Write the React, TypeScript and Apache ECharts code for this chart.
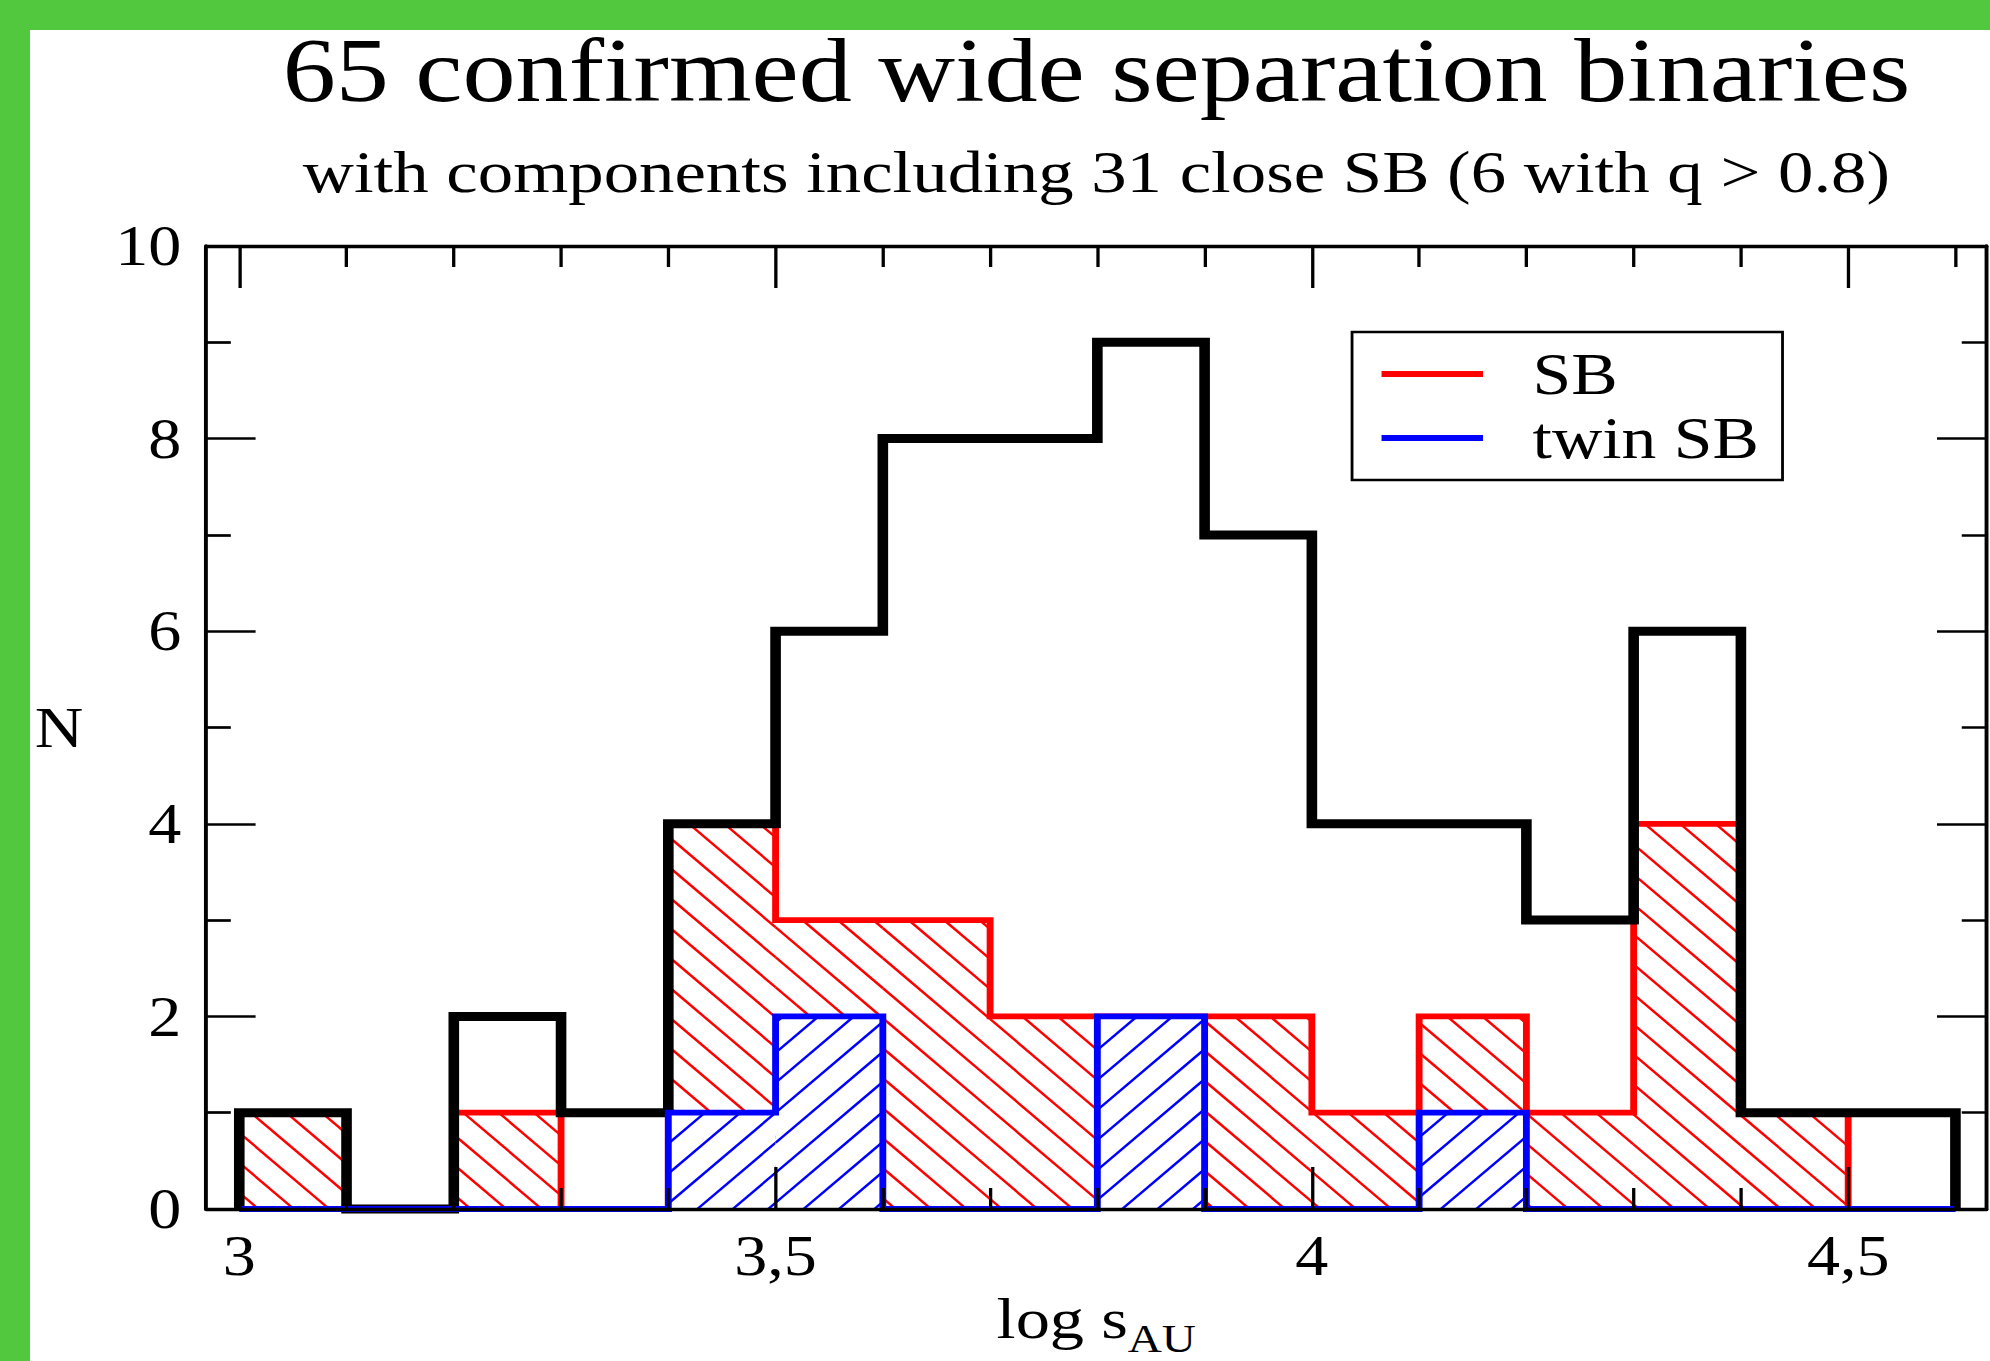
import React, { useEffect, useRef } from 'react';
import * as echarts from 'echarts';

// ---------------- data ----------------
const binEdges = [3.0, 3.1, 3.2, 3.3, 3.4, 3.5, 3.6, 3.7, 3.8, 3.9, 4.0, 4.1, 4.2, 4.3, 4.4, 4.5, 4.6];
const allCounts = [1, 0, 2, 1, 4, 6, 8, 8, 9, 7, 4, 4, 3, 6, 1, 1];
const sbCounts = [1, 0, 1, 0, 4, 3, 3, 2, 2, 2, 1, 2, 1, 4, 1, 0];
const twinCounts = [0, 0, 0, 0, 1, 2, 0, 0, 2, 0, 0, 1, 0, 0, 0, 0];

const xMajorTicks = [3, 3.5, 4, 4.5];
const xTickLabels = ['3', '3,5', '4', '4,5'];
const xMinorTicks = [3.1, 3.2, 3.3, 3.4, 3.6, 3.7, 3.8, 3.9, 4.1, 4.2, 4.3, 4.4, 4.6];

const titleText = '65 confirmed wide separation binaries';
const subtitleText = 'with components including 31 close SB (6 with q > 0.8)';
const legendNames = ['SB', 'twin SB'];

// ---------------- layout / style ----------------
const S = 1.18; // horizontal stretch of the original figure
const PAGE_W = 1990;
const PAGE_H = 1361;
const FRAME_W = PAGE_W / S;
const GREEN = '#52c83f';
const FONT = "'Liberation Serif', 'Times New Roman', 'DejaVu Serif', serif";
const HATCH_STEP = 30;

function stepPoints(counts: number[]) {
  const pts: number[][] = [[binEdges[0], 0]];
  counts.forEach((c, i) => {
    pts.push([binEdges[i], c]);
    pts.push([binEdges[i + 1], c]);
  });
  pts.push([binEdges[binEdges.length - 1], 0]);
  return pts;
}

function bars(counts: number[]) {
  return counts
    .map((c, i) => [binEdges[i], binEdges[i + 1], c])
    .filter((d) => d[2] > 0);
}

function hatchRenderer(dir: number, color: string, fillWhite: boolean) {
  return (params: any, api: any) => {
    const x0 = api.value(0);
    const x1 = api.value(1);
    const c = api.value(2);
    const p0 = api.coord([x0, c]);
    const p1 = api.coord([x1, 0]);
    const L = p0[0], T = p0[1], R = p1[0], B = p1[1];
    const children: any[] = [];
    if (fillWhite) {
      children.push({ type: 'rect', shape: { x: L, y: T, width: R - L, height: B - T }, style: { fill: '#fff' } });
    }
    const d = HATCH_STEP;
    const st = { stroke: color, lineWidth: 2.3 };
    if (dir === 1) {
      for (let k = Math.ceil((T - R) / d); k <= Math.floor((B - L) / d); k++) {
        const cc = k * d;
        const xs = Math.max(L, T - cc);
        const xe = Math.min(R, B - cc);
        if (xe > xs) children.push({ type: 'line', shape: { x1: xs, y1: xs + cc, x2: xe, y2: xe + cc }, style: st });
      }
    } else {
      for (let k = Math.ceil((L + T) / d); k <= Math.floor((R + B) / d); k++) {
        const cc = k * d;
        const xs = Math.max(L, cc - B);
        const xe = Math.min(R, cc - T);
        if (xe > xs) children.push({ type: 'line', shape: { x1: xs, y1: cc - xs, x2: xe, y2: cc - xe }, style: st });
      }
    }
    return { type: 'group', children };
  };
}

const axisLineStyle = { color: '#000', width: 3.3 };
const xTickStyle = { color: '#000', width: 2.8 };
const yTickStyle = { color: '#000', width: 2.7 };

const xBase = {
  type: 'value',
  min: 2.969,
  max: 4.629,
  z: 10,
  splitLine: { show: false },
  minorSplitLine: { show: false },
};

const yBase = {
  type: 'value',
  min: 0,
  max: 10,
  interval: 2,
  z: 10,
  splitLine: { show: false },
  minorSplitLine: { show: false },
  axisLine: { show: true, onZero: false, lineStyle: axisLineStyle },
  axisTick: { show: true, inside: true, length: 42, lineStyle: yTickStyle },
  minorTick: { show: true, splitNumber: 2, length: 21, lineStyle: yTickStyle },
};

const PLOT_CENTER = 929.2;

const option: any = {
  animation: false,
  title: [
    {
      text: titleText,
      left: PLOT_CENTER,
      top: 30,
      textAlign: 'center',
      padding: 0,
      textStyle: { fontFamily: FONT, fontSize: 90, lineHeight: 80, fontWeight: 'normal', color: '#000' },
    },
    {
      text: subtitleText,
      left: PLOT_CENTER,
      top: 142,
      textAlign: 'center',
      padding: 0,
      textStyle: { fontFamily: FONT, fontSize: 60, lineHeight: 60, fontWeight: 'normal', color: '#000' },
    },
  ],
  legend: {
    data: legendNames.map((n) => ({ name: n, icon: 'rect' })),
    orient: 'vertical',
    left: 1145.8,
    top: 332,
    itemWidth: 86,
    itemHeight: 6,
    itemGap: 4,
    padding: [12, 20, 12, 25],
    borderColor: '#000',
    borderWidth: 2.4,
    backgroundColor: '#fff',
    selectedMode: false,
    textStyle: { fontFamily: FONT, fontSize: 59, lineHeight: 60, color: '#000', padding: [0, 0, 0, 37] },
  },
  grid: { left: 174.6, right: 2.5, top: 246, bottom: 152, containLabel: false, outerBoundsMode: 'none' },
  xAxis: [
    {
      ...xBase,
      position: 'bottom',
      axisLine: { show: true, onZero: false, lineStyle: axisLineStyle },
      axisTick: { show: true, inside: true, length: 42, customValues: xMajorTicks, lineStyle: xTickStyle },
      axisLabel: {
        show: true,
        customValues: xMajorTicks,
        margin: 19,
        color: '#000',
        fontFamily: FONT,
        fontSize: 56,
        formatter: (v: number) => {
          const i = xMajorTicks.findIndex((t) => Math.abs(t - v) < 1e-9);
          return i >= 0 ? xTickLabels[i] : '';
        },
      },
      name: '{a|log s}{b|AU}',
      nameLocation: 'middle',
      nameGap: 79,
      nameTextStyle: {
        color: '#000',
        rich: {
          a: { fontFamily: FONT, fontSize: 58, lineHeight: 69, verticalAlign: 'top', color: '#000' },
          b: { fontFamily: FONT, fontSize: 40, lineHeight: 24, verticalAlign: 'bottom', color: '#000' },
        },
      },
    },
    {
      ...xBase,
      position: 'bottom',
      axisLine: { show: false, onZero: false },
      axisTick: { show: true, inside: true, length: 21, customValues: xMinorTicks, lineStyle: xTickStyle },
      axisLabel: { show: false },
    },
    {
      ...xBase,
      position: 'top',
      axisLine: { show: true, onZero: false, lineStyle: axisLineStyle },
      axisTick: { show: true, inside: true, length: 42, customValues: xMajorTicks, lineStyle: xTickStyle },
      axisLabel: { show: false },
    },
    {
      ...xBase,
      position: 'top',
      axisLine: { show: false, onZero: false },
      axisTick: { show: true, inside: true, length: 21, customValues: xMinorTicks, lineStyle: xTickStyle },
      axisLabel: { show: false },
    },
  ],
  yAxis: [
    {
      ...yBase,
      position: 'left',
      axisLabel: { show: true, margin: 21, color: '#000', fontFamily: FONT, fontSize: 56 },
      name: 'N',
      nameLocation: 'middle',
      nameRotate: 0,
      nameGap: 104,
      nameTextStyle: { fontFamily: FONT, fontSize: 57, color: '#000' },
    },
    {
      ...yBase,
      position: 'right',
      axisLabel: { show: false },
    },
  ],
  series: [
    {
      type: 'custom',
      name: 'SB hatch',
      renderItem: hatchRenderer(1, '#ff0000', false),
      data: bars(sbCounts),
      encode: { x: [0, 1], y: 2 },
      z: 1,
      silent: true,
    },
    {
      type: 'line',
      name: 'SB',
      data: stepPoints(sbCounts),
      symbol: 'none',
      clip: false,
      lineStyle: { color: '#ff0000', width: 5.8, join: 'miter', cap: 'butt' },
      itemStyle: { color: '#ff0000' },
      z: 2,
      silent: true,
    },
    {
      type: 'line',
      name: 'all',
      data: stepPoints(allCounts),
      symbol: 'none',
      clip: false,
      lineStyle: { color: '#000', width: 9, join: 'miter', cap: 'butt' },
      itemStyle: { color: '#000' },
      z: 3,
      silent: true,
    },
    {
      type: 'custom',
      name: 'twin SB hatch',
      renderItem: hatchRenderer(-1, '#0000ff', true),
      data: bars(twinCounts),
      encode: { x: [0, 1], y: 2 },
      z: 4,
      silent: true,
    },
    {
      type: 'line',
      name: 'twin SB',
      data: stepPoints(twinCounts),
      symbol: 'none',
      clip: false,
      lineStyle: { color: '#0000ff', width: 5.8, join: 'miter', cap: 'butt' },
      itemStyle: { color: '#0000ff' },
      z: 5,
      silent: true,
    },
  ],
};

export default function App() {
  const ref = useRef<HTMLDivElement>(null);
  useEffect(() => {
    if (!ref.current) return;
    const chart = echarts.init(ref.current, null, { renderer: 'svg' });
    chart.setOption(option);
    return () => chart.dispose();
  }, []);
  return (
    <div
      style={{
        position: 'absolute',
        left: 0,
        top: 0,
        width: PAGE_W,
        height: PAGE_H,
        background: GREEN,
        overflow: 'hidden',
      }}
    >
      <div
        style={{
          position: 'absolute',
          left: 30,
          top: 30,
          width: PAGE_W - 30,
          height: PAGE_H - 30,
          background: '#fff',
        }}
      />
      <div
        ref={ref}
        style={{
          position: 'absolute',
          left: 0,
          top: 0,
          width: FRAME_W,
          height: PAGE_H,
          transform: `scaleX(${S})`,
          transformOrigin: '0 0',
        }}
      />
    </div>
  );
}
